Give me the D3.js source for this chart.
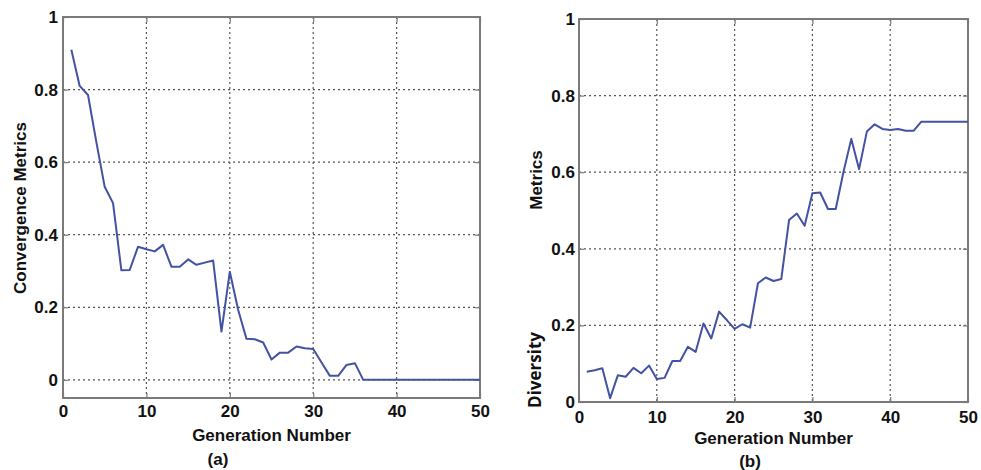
<!DOCTYPE html>
<html>
<head>
<meta charset="utf-8">
<script src="https://cdn.jsdelivr.net/npm/d3@7/dist/d3.min.js"></script>
<style>
  html, body { margin: 0; padding: 0; background: #fff; }
  svg { display: block; }
  .tick text { font-family: "Liberation Sans", Arial, sans-serif; font-weight: bold; font-size: 17px; fill: #111; }
  .lbl { font-family: "Liberation Sans", Arial, sans-serif; font-weight: bold; font-size: 17px; fill: #111; }
</style>
</head>
<body>
<svg id="chart" width="981" height="470"></svg>
<script>
// Generation index shared by both panels
const generations = d3.range(1, 51);

// Panel (a): convergence metric per generation
const convergence = [
  0.910, 0.810, 0.785, 0.655, 0.532, 0.487, 0.302, 0.303, 0.367, 0.360,
  0.354, 0.372, 0.312, 0.312, 0.332, 0.317, 0.323, 0.329, 0.133, 0.298,
  0.193, 0.113, 0.112, 0.103, 0.056, 0.075, 0.075, 0.092, 0.087, 0.085,
  0.048, 0.011, 0.011, 0.041, 0.046, 0, 0, 0, 0, 0,
  0, 0, 0, 0, 0, 0, 0, 0, 0, 0
];

// Panel (b): diversity metric per generation
const diversity = [
  0.079, 0.083, 0.088, 0.010, 0.070, 0.066, 0.089, 0.075, 0.095, 0.060,
  0.063, 0.107, 0.107, 0.144, 0.131, 0.205, 0.166, 0.236, 0.214, 0.191,
  0.203, 0.194, 0.310, 0.325, 0.316, 0.321, 0.475, 0.492, 0.460, 0.545,
  0.547, 0.504, 0.504, 0.601, 0.687, 0.608, 0.706, 0.725, 0.713, 0.710,
  0.713, 0.708, 0.708, 0.732, 0.732, 0.732, 0.732, 0.732, 0.732, 0.732
];

const xTicks = [0, 10, 20, 30, 40, 50];
const yTicks = [0, 0.2, 0.4, 0.6, 0.8, 1];
const yTickLabels = ["0", "0.2", "0.4", "0.6", "0.8", "1"];

const svg = d3.select("#chart");
const LINE = "#4352a3";
const AXIS = "#7a7a7a";
const GRID = "#555";

function panel(opt) {
  const x = d3.scaleLinear().domain([0, 50]).range([opt.left, opt.right]);
  const y = d3.scaleLinear().domain(opt.yDomain).range([opt.bottom, opt.top]);
  const g = svg.append("g");

  // dotted grid
  g.append("g").selectAll("line.vx")
    .data(xTicks.filter(t => t > 0 && t < 50))
    .join("line")
    .attr("x1", d => x(d)).attr("x2", d => x(d))
    .attr("y1", opt.top).attr("y2", opt.bottom)
    .attr("stroke", GRID).attr("stroke-width", 1.2)
    .attr("stroke-dasharray", "2,3");
  g.append("g").selectAll("line.hy")
    .data(yTicks.filter(t => t > opt.yDomain[0] && t < 1))
    .join("line")
    .attr("x1", opt.left).attr("x2", opt.right)
    .attr("y1", d => y(d)).attr("y2", d => y(d))
    .attr("stroke", GRID).attr("stroke-width", 1.2)
    .attr("stroke-dasharray", "2,3");

  // axes with inward ticks
  const ax = g.append("g")
    .attr("transform", `translate(0,${opt.bottom})`)
    .call(d3.axisBottom(x).tickValues(xTicks).tickFormat(d3.format("d"))
      .tickSize(-5).tickPadding(opt.xPad));
  const ay = g.append("g")
    .attr("transform", `translate(${opt.left},0)`)
    .call(d3.axisLeft(y).tickValues(yTicks).tickFormat((d, i) => yTickLabels[i])
      .tickSize(-5).tickPadding(opt.yPad));
  // mirrored ticks on the top and right edges
  g.append("g").attr("transform", `translate(0,${opt.top})`)
    .call(d3.axisTop(x).tickValues(xTicks).tickFormat("").tickSize(-5));
  g.append("g").attr("transform", `translate(${opt.right},0)`)
    .call(d3.axisRight(y).tickValues(yTicks).tickFormat("").tickSize(-5));
  g.selectAll(".domain").remove();
  g.selectAll(".tick line").attr("stroke", AXIS).attr("stroke-width", 1.2);
  ax.selectAll(".tick text").attr("dy", "0.71em");

  // box
  g.append("rect")
    .attr("x", opt.left).attr("y", opt.top)
    .attr("width", opt.right - opt.left).attr("height", opt.bottom - opt.top)
    .attr("fill", "none").attr("stroke", AXIS).attr("stroke-width", 2);

  // series
  const line = d3.line().x((d, i) => x(generations[i])).y(d => y(d));
  g.append("path")
    .datum(opt.values)
    .attr("d", line)
    .attr("fill", "none")
    .attr("stroke", LINE)
    .attr("stroke-width", 2)
    .attr("stroke-linejoin", "round");

  // x label and caption
  const cx = (opt.left + opt.right) / 2;
  g.append("text").attr("class", "lbl")
    .attr("x", cx).attr("y", opt.xLabelY)
    .attr("text-anchor", "middle").text("Generation Number");
  g.append("text").attr("class", "lbl")
    .attr("x", opt.capX).attr("y", opt.capY)
    .attr("text-anchor", "middle")
    .text(opt.caption);
  return { g, x, y };
}

const a = panel({
  left: 63, right: 480, top: 17, bottom: 398, yDomain: [-0.05, 1],
  values: convergence, xPad: 7, yPad: 5, xLabelY: 441,
  caption: "(a)", capX: 218, capY: 465
});
a.g.append("text").attr("class", "lbl")
  .attr("transform", "translate(26,208) rotate(-90)")
  .attr("text-anchor", "middle").text("Convergence Metrics");

const b = panel({
  left: 579, right: 968, top: 19, bottom: 402, yDomain: [0, 1],
  values: diversity, xPad: 9, yPad: 4, xLabelY: 444,
  caption: "(b)", capX: 750, capY: 467
});
b.g.append("text").attr("class", "lbl")
  .attr("transform", "translate(541,370) rotate(-90)")
  .attr("text-anchor", "middle")
  .style("font-family", "'Open Sans', sans-serif")
  .text("Diversity");
b.g.append("text").attr("class", "lbl")
  .attr("transform", "translate(542,180) rotate(-90)")
  .attr("text-anchor", "middle").text("Metrics");
</script>
</body>
</html>
